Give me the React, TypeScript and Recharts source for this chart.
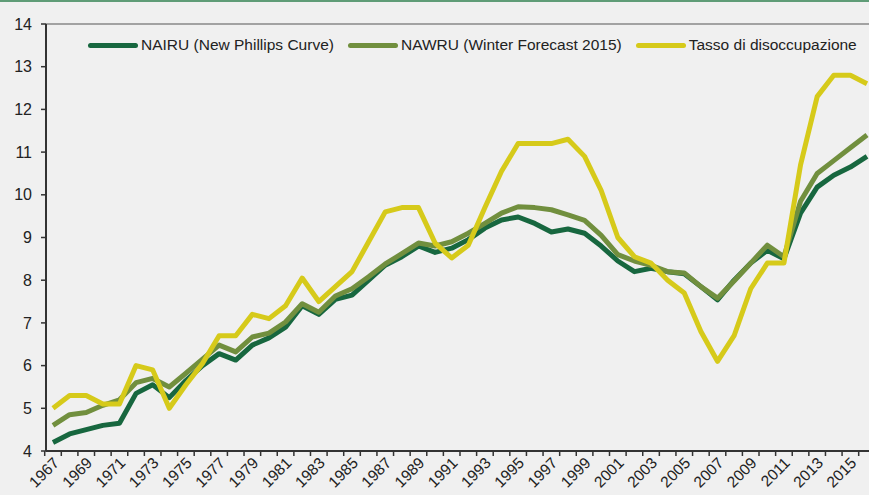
import * as React from "react"
import { LineChart, Line, XAxis, YAxis, ReferenceLine } from "recharts"

const years = [
  1967, 1968, 1969, 1970, 1971, 1972, 1973, 1974, 1975, 1976,
  1977, 1978, 1979, 1980, 1981, 1982, 1983, 1984, 1985, 1986,
  1987, 1988, 1989, 1990, 1991, 1992, 1993, 1994, 1995, 1996,
  1997, 1998, 1999, 2000, 2001, 2002, 2003, 2004, 2005, 2006,
  2007, 2008, 2009, 2010, 2011, 2012, 2013, 2014, 2015, 2016,
]

const nairu = [
  4.2, 4.4, 4.5, 4.6, 4.65, 5.35, 5.55, 5.25, 5.65, 6.0,
  6.28, 6.13, 6.48, 6.65, 6.9, 7.4, 7.2, 7.55, 7.65, 8.0,
  8.35, 8.55, 8.8, 8.65, 8.75, 8.95, 9.22, 9.41, 9.48, 9.33,
  9.13, 9.2, 9.1, 8.8, 8.45, 8.2, 8.28, 8.2, 8.15, 7.85,
  7.54, 8.0, 8.4, 8.7, 8.5, 9.57, 10.18, 10.46, 10.65, 10.9,
]

const nawru = [
  4.6, 4.85, 4.9, 5.07, 5.2, 5.6, 5.7, 5.5, 5.82, 6.15,
  6.48, 6.32, 6.67, 6.76, 7.02, 7.45, 7.25, 7.63, 7.8, 8.08,
  8.38, 8.62, 8.87, 8.8, 8.9, 9.1, 9.33, 9.57, 9.72, 9.7,
  9.65, 9.53, 9.4, 9.05, 8.6, 8.45, 8.35, 8.2, 8.17, 7.85,
  7.58, 7.98, 8.4, 8.82, 8.55, 9.85, 10.5, 10.8, 11.1, 11.4,
]

const tasso = [
  5.0, 5.3, 5.3, 5.1, 5.1, 6.0, 5.9, 5.0, 5.55, 6.05,
  6.7, 6.7, 7.2, 7.1, 7.4, 8.05, 7.5, 7.85, 8.2, 8.9,
  9.6, 9.7, 9.7, 8.87, 8.52, 8.82, 9.7, 10.55, 11.2, 11.2,
  11.2, 11.3, 10.9, 10.1, 9.0, 8.55, 8.4, 8.0, 7.7, 6.8,
  6.1, 6.7, 7.8, 8.4, 8.4, 10.7, 12.3, 12.8, 12.8, 12.6,
]

const yTicks = [4, 5, 6, 7, 8, 9, 10, 11, 12, 13, 14]

const series = [
  { key: "nairu", name: "NAIRU (New Phillips Curve)", color: "#17673f" },
  { key: "nawru", name: "NAWRU (Winter Forecast 2015)", color: "#718f3e" },
  { key: "tasso", name: "Tasso di disoccupazione", color: "#d6ca1a" },
]

const data = years.map((y, i) => ({
  year: y,
  nairu: nairu[i],
  nawru: nawru[i],
  tasso: tasso[i],
}))

const FONT = "'Liberation Sans', Arial, sans-serif"
const STEP = 16.6

const YearTick = (props: any) => {
  const { x, y, payload } = props
  const show = payload.index % 2 === 0
  return (
    <g>
      <line x1={x + STEP / 2} y1={y - 8} x2={x + STEP / 2} y2={y - 3} stroke="#333" strokeWidth={1.5} />
      {payload.index === 0 && (
        <line x1={x - STEP / 2} y1={y - 8} x2={x - STEP / 2} y2={y - 3} stroke="#333" strokeWidth={1.5} />
      )}
      {show && (
        <text
          x={x + 7}
          y={y + 5}
          textAnchor="end"
          transform={`rotate(-45 ${x + 7} ${y + 5})`}
          fontSize={15.5}
          fontFamily={FONT}
          fill="#222"
        >
          {payload.value}
        </text>
      )}
    </g>
  )
}

const LegendBox = () => (
  <div
    style={{
      position: "absolute",
      top: 36,
      left: 88,
      display: "flex",
      alignItems: "center",
      fontFamily: FONT,
      fontSize: 15.5,
      color: "#222",
    }}
  >
    {series.map((s) => (
      <div key={s.key} style={{ display: "flex", alignItems: "center", marginRight: 14 }}>
        <div style={{ width: 50, height: 5, borderRadius: 3, background: s.color, marginRight: 3 }} />
        <span style={{ whiteSpace: "nowrap" }}>{s.name}</span>
      </div>
    ))}
  </div>
)

export default function App() {
  return (
    <div
      style={{
        position: "absolute",
        left: 0,
        top: 0,
        width: 869,
        height: 495,
        background: "#f0f0f0",
        overflow: "hidden",
      }}
    >
      <div style={{ position: "absolute", left: 0, top: 0, width: 869, height: 2, background: "#5f9c77" }} />
      <LineChart width={869} height={495} data={data} margin={{ top: 24, right: 0, left: 0, bottom: 0 }}>
        <XAxis
          dataKey="year"
          interval={0}
          tick={<YearTick />}
          tickLine={false}
          axisLine={{ stroke: "#333", strokeWidth: 2 }}
          padding={{ left: 7, right: 2 }}
          height={44}
        />
        <YAxis
          domain={[4, 14]}
          ticks={yTicks}
          width={46}
          tickSize={5}
          tickMargin={9}
          axisLine={{ stroke: "#333", strokeWidth: 2 }}
          tickLine={{ stroke: "#333", strokeWidth: 1.5 }}
          tick={{ fontSize: 16, fontFamily: FONT, fill: "#222" }}
        />
        <ReferenceLine y={14} stroke="#555" strokeWidth={1} />
        {series.map((s) => (
          <Line
            key={s.key}
            type="linear"
            dataKey={s.key}
            name={s.name}
            stroke={s.color}
            strokeWidth={5}
            dot={false}
            activeDot={false}
            strokeLinejoin="round"
            isAnimationActive={false}
          />
        ))}
      </LineChart>
      <LegendBox />
    </div>
  )
}
